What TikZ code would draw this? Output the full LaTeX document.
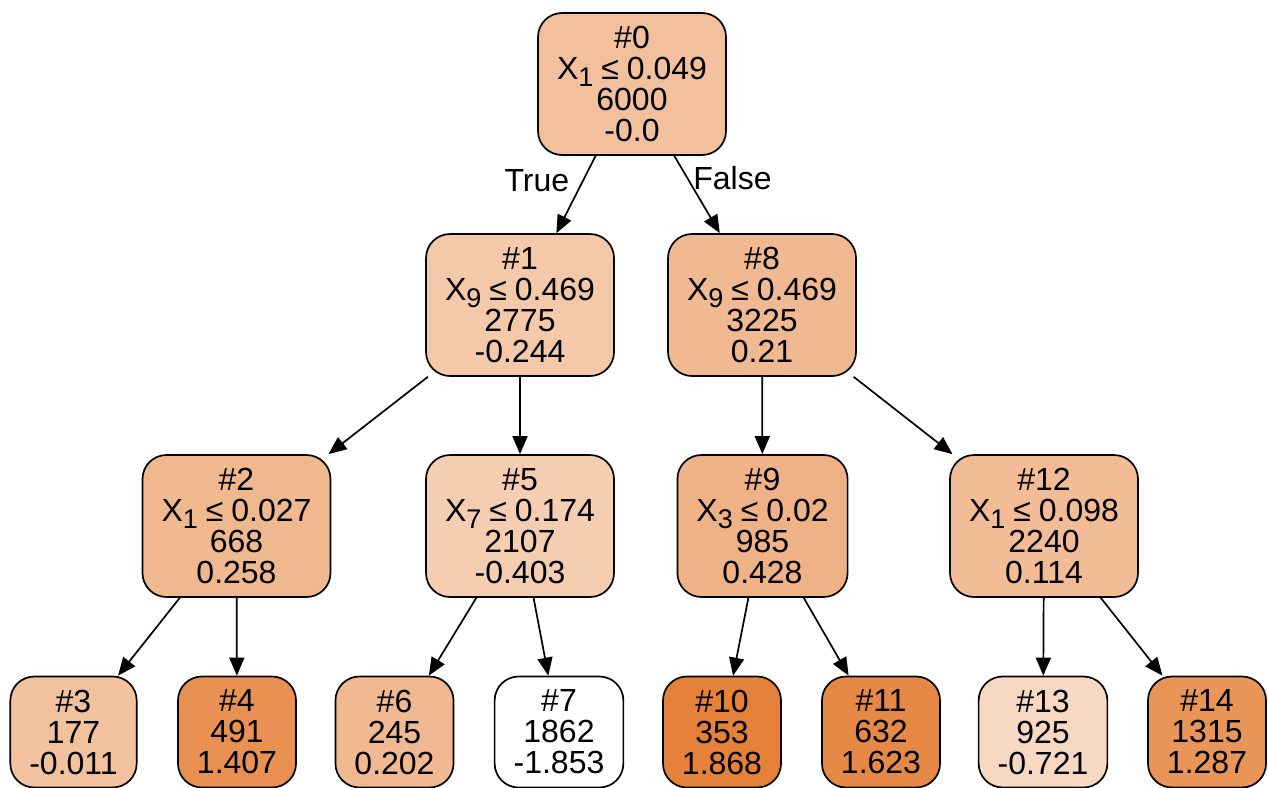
\documentclass[tikz,border=0pt]{standalone}
\usepackage{fontspec}
\setmainfont{Liberation Sans}
\usetikzlibrary{arrows.meta}

\definecolor{torange}{RGB}{229,129,57}
% lowered subscript and the gaps round the sign
\newcommand{\xsub}[1]{\raisebox{-7pt}{\fontsize{27}{27}\selectfont #1}}
\newcommand{\xle}{\hspace{0.25em}≤\hspace{0.25em}}

\begin{document}
\begin{tikzpicture}[
  x=1pt, y=-1pt,
  font=\fontsize{32}{31}\selectfont,
  split/.style={draw, rounded corners=24pt, line width=1.7pt, align=center, inner xsep=19pt, inner ysep=0pt,
    minimum width=118pt, minimum height=142pt, fill=torange!#1},
  leaf/.style={split=#1, minimum height=111pt},
  edge/.style={-{Triangle[length=18pt,width=15pt]}, line width=1.7pt},
  elabel/.style={inner sep=0pt}
]
\useasboundingbox (0,0) rectangle (1268,787);

% root and first split
\node[split=49.8] (n0) at (632,84) {\#0\\X\xsub{1}\xle 0.049\\6000\\-0.0};
\node[split=43.2] (n1) at (520,305) {\#1\\X\xsub{9}\xle 0.469\\2775\\-0.244};
\node[split=55.4] (n8) at (762,305) {\#8\\X\xsub{9}\xle 0.469\\3225\\0.21};

% second level
\node[split=56.7] (n2) at (236.5,526) {\#2\\X\xsub{1}\xle 0.027\\668\\0.258};
\node[split=39.0] (n5) at (520,526) {\#5\\X\xsub{7}\xle 0.174\\2107\\-0.403};
\node[split=61.3] (n9) at (762.5,526) {\#9\\X\xsub{3}\xle 0.02\\985\\0.428};
\node[split=52.9] (n12) at (1044,526) {\#12\\X\xsub{1}\xle 0.098\\2240\\0.114};

% leaves
\node[leaf=49.5] (n3) at (73.5,732) {\#3\\177\\-0.011};
\node[leaf=87.6] (n4) at (237,732) {\#4\\491\\1.407};
\node[leaf=55.2] (n6) at (394.5,732) {\#6\\245\\0.202};
\node[leaf=0] (n7) at (559,732) {\#7\\1862\\-1.853};
\node[leaf=100] (n10) at (722,732) {\#10\\353\\1.868};
\node[leaf=93.4] (n11) at (881,732) {\#11\\632\\1.623};
\node[leaf=30.4] (n13) at (1043,732) {\#13\\925\\-0.721};
\node[leaf=84.4] (n14) at (1207,732) {\#14\\1315\\1.287};

% edges
\draw[edge] (n0) -- node[elabel, pos=0.32, left=13pt] {True} (n1);
\draw[edge] (n0) -- node[elabel, pos=0.29, right=5pt] {False} (n8);
\draw[edge] (n1) -- (n2);
\draw[edge] (n1) -- (n5);
\draw[edge] (n8) -- (n9);
\draw[edge] (n8) -- (n12);
\draw[edge] (n2) -- (n3);
\draw[edge] (n2) -- (n4);
\draw[edge] (n5) -- (n6);
\draw[edge] (n5) -- (n7);
\draw[edge] (n9) -- (n10);
\draw[edge] (n9) -- (n11);
\draw[edge] (n12) -- (n13);
\draw[edge] (n12) -- (n14);

\end{tikzpicture}
\end{document}
